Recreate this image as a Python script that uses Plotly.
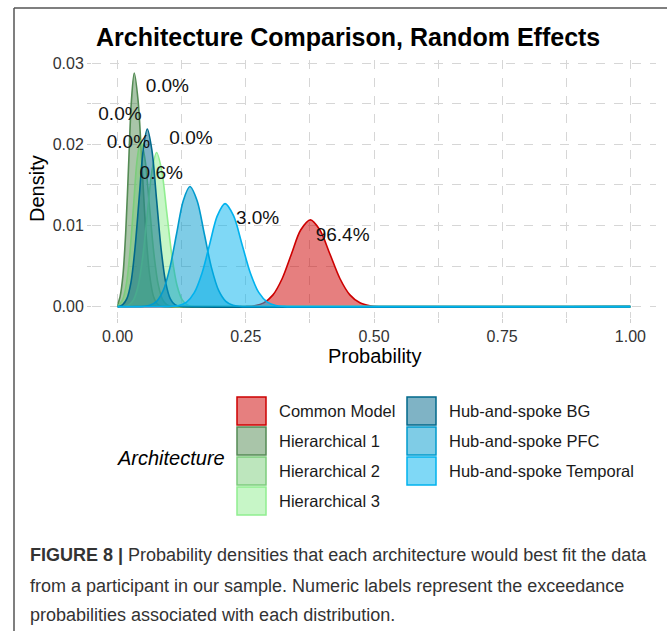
import plotly.graph_objects as go

W, H = 667, 631

# ---- data -------------------------------------------------------------
architectures = ["Common Model", "Hierarchical 1", "Hierarchical 2", "Hierarchical 3",
                 "Hub-and-spoke BG", "Hub-and-spoke PFC", "Hub-and-spoke Temporal"]

common_x = [0.0, 0.23, 0.249, 0.267, 0.285, 0.303, 0.321, 0.339, 0.357, 0.376,
            0.3945, 0.414, 0.4335, 0.453, 0.4725, 0.492, 0.5115, 0.53, 1.0]
common_y = [0, 0, 0.00002, 0.00012, 0.00047, 0.00145, 0.00347, 0.00649, 0.00944, 0.0107,
            0.00944, 0.00649, 0.00347, 0.00145, 0.00047, 0.00012, 0.00002, 0, 0]

hier1_x = [0.0, 0.002, 0.0049, 0.0104, 0.0159, 0.0214, 0.0269, 0.0324,
           0.0399, 0.0474, 0.0549, 0.0624, 0.0699, 0.0774, 0.0849, 0.095, 1.0]
hier1_y = [0, 0.0006, 0.00126, 0.0039, 0.00935, 0.01747, 0.0254, 0.0288,
           0.0254, 0.01747, 0.00935, 0.0039, 0.00126, 0.00032, 0.00006, 0, 0]

hier2_x = [0.0, 0.003, 0.010, 0.017, 0.024, 0.031, 0.038, 0.045,
           0.0535, 0.062, 0.0705, 0.079, 0.0875, 0.096, 0.1045, 0.115, 1.0]
hier2_y = [0, 0.00023, 0.0009, 0.00277, 0.00666, 0.01243, 0.0181, 0.0205,
           0.0181, 0.01243, 0.00666, 0.00277, 0.0009, 0.00023, 0.00005, 0, 0]

hier3_x = [0.0, 0.005, 0.013, 0.022, 0.031, 0.040, 0.049, 0.058, 0.067, 0.076,
           0.086, 0.096, 0.106, 0.116, 0.126, 0.136, 0.146, 0.16, 1.0]
hier3_y = [0, 0, 0.00004, 0.00021, 0.00083, 0.00257, 0.00617, 0.01152, 0.01677, 0.019,
           0.01677, 0.01152, 0.00617, 0.00257, 0.00083, 0.00021, 0.00004, 0, 0]

bg_x = [0.0, 0.004, 0.010, 0.018, 0.026, 0.034, 0.042, 0.050, 0.0578,
        0.0668, 0.0758, 0.0848, 0.0938, 0.1028, 0.1118, 0.1208, 0.13, 1.0]
bg_y = [0, 0.00005, 0.00025, 0.00098, 0.0030, 0.0073, 0.0134, 0.0194, 0.0219,
        0.0193, 0.0133, 0.0071, 0.00296, 0.00096, 0.00024, 0.00005, 0, 0]

pfc_x = [0.0, 0.036, 0.05, 0.063, 0.076, 0.089, 0.102, 0.115, 0.128, 0.141,
         0.155, 0.169, 0.183, 0.197, 0.211, 0.225, 0.239, 0.253, 1.0]
pfc_y = [0, 0, 0.00003, 0.00016, 0.00065, 0.002, 0.00481, 0.00898, 0.01306, 0.0148,
         0.01306, 0.00898, 0.00481, 0.002, 0.00065, 0.00016, 0.00003, 0, 0]

temporal_x = [0.0, 0.09, 0.1045, 0.1195, 0.1345, 0.1495, 0.1645, 0.1795, 0.1945, 0.2095,
              0.226, 0.2425, 0.259, 0.2755, 0.292, 0.3085, 0.325, 0.34, 1.0]
temporal_y = [0, 0, 0.00003, 0.00014, 0.00056, 0.00172, 0.00412, 0.0077, 0.01121, 0.0127,
              0.01121, 0.0077, 0.00412, 0.00172, 0.00056, 0.00014, 0.00003, 0, 0]

# exceedance probabilities (%) and where their labels sit
exceedance = [96.4, 0.0, 0.0, 0.0, 0.0, 0.6, 3.0]
label_x = [0.4388, 0.097, 0.0045, 0.021, 0.143, 0.085, 0.273]
label_y = [0.0087, 0.0270, 0.0236, 0.0201, 0.0206, 0.0163, 0.0108]

x_ticks = [0.0, 0.25, 0.5, 0.75, 1.0]
x_ticktext = ["0.00", "0.25", "0.50", "0.75", "1.00"]
y_ticks = [0.0, 0.01, 0.02, 0.03]
y_ticktext = ["0.00", "0.01", "0.02", "0.03"]

# ---- styling ----------------------------------------------------------
colors = ["#CD0000", "#548B54", "#7CCD7C", "#90EE90", "#00688B", "#009ACD", "#00B2EE"]
FONT = "Liberation Sans, Arial, Helvetica, sans-serif"

curves = [(common_x, common_y), (hier1_x, hier1_y), (hier2_x, hier2_y), (hier3_x, hier3_y),
          (bg_x, bg_y), (pfc_x, pfc_y), (temporal_x, temporal_y)]


def rgba(hex_color, a):
    h = hex_color.lstrip("#")
    r, g, b = int(h[0:2], 16), int(h[2:4], 16), int(h[4:6], 16)
    return f"rgba({r},{g},{b},{a})"


# plot panel in pixels
L, R, T, B = 92, 656, 60, 318


def px(x):
    return (x - L) / (R - L)


def py(y):
    return (B - y) / (B - T)


fig = go.Figure()

for name, col, (xs, ys) in zip(architectures, colors, curves):
    fig.add_trace(go.Scatter(
        x=xs, y=ys, name=name, mode="lines",
        line=dict(color=col, width=1.6, shape="spline", smoothing=0.9),
        fill="tozeroy", fillcolor=rgba(col, 0.5),
        showlegend=False, hoverinfo="skip",
    ))

fig.add_trace(go.Scatter(
    x=label_x, y=label_y, mode="text",
    text=[f"{p:.1f}%" for p in exceedance],
    textfont=dict(family=FONT, size=19, color="#111111"),
    showlegend=False, hoverinfo="skip",
))

grid = dict(showgrid=True, gridcolor="#d6d6d6", gridwidth=1, griddash="dash")

fig.update_xaxes(
    range=[-0.05, 1.05], tickvals=x_ticks, ticktext=x_ticktext,
    ticks="outside", ticklen=4, tickcolor="#cfcfcf",
    tickfont=dict(family=FONT, size=16, color="#333333"),
    zeroline=False, showline=False,
    minor=dict(tickvals=[0.125, 0.375, 0.625, 0.875], ticks="outside", ticklen=4,
               tickcolor="#cfcfcf", **grid),
    **grid,
)
fig.update_yaxes(
    range=[-0.0014, 0.0304], tickvals=y_ticks, ticktext=y_ticktext,
    ticks="outside", ticklen=4, tickcolor="#cfcfcf",
    tickfont=dict(family=FONT, size=16, color="#333333"),
    zeroline=False, showline=False,
    minor=dict(tickvals=[0.005, 0.015, 0.025], ticks="outside", ticklen=4,
               tickcolor="#cfcfcf", **grid),
    **grid,
)

annotations = [
    dict(text="<b>Architecture Comparison, Random Effects</b>", x=px(348), y=py(37),
         font=dict(family=FONT, size=25, color="#000000")),
    dict(text="Probability", x=px(374), y=py(356),
         font=dict(family=FONT, size=20, color="#000000")),
    dict(text="Density", x=px(37), y=py(189), textangle=-90,
         font=dict(family=FONT, size=20, color="#000000")),
    dict(text="<i>Architecture</i>", x=px(227), y=py(458), xanchor="right",
         font=dict(family=FONT, size=20, color="#000000")),
]

shapes = []
# legend: two columns of swatches
slots = [(237, 411), (237, 441), (237, 471), (237, 501), (407, 411), (407, 441), (407, 471)]
for name, col, (sx, cy) in zip(architectures, colors, slots):
    shapes.append(dict(type="rect", xref="paper", yref="paper",
                       x0=px(sx), x1=px(sx + 29), y0=py(cy + 14), y1=py(cy - 14),
                       fillcolor=rgba(col, 0.5), line=dict(color=col, width=1.5)))
    annotations.append(dict(text=name, x=px(sx + 40), y=py(cy), xanchor="left",
                            font=dict(family=FONT, size=16.5, color="#1a1a1a")))

# caption below the chart
caption = [
    "<b>FIGURE 8 |</b> Probability densities that each architecture would best fit the data",
    "from a participant in our sample. Numeric labels represent the exceedance",
    "probabilities associated with each distribution.",
]
for line, cy in zip(caption, [555, 586, 615]):
    annotations.append(dict(text=line, x=px(28), y=py(cy), xanchor="left",
                            font=dict(family=FONT, size=18, color="#333333")))

for a in annotations:
    a.setdefault("xref", "paper")
    a.setdefault("yref", "paper")
    a.setdefault("showarrow", False)
    a.setdefault("yanchor", "middle")
    a.setdefault("xanchor", "center")

# frame around the figure
shapes.append(dict(type="line", xref="paper", yref="paper",
                   x0=px(14), x1=px(700), y0=py(8), y1=py(8),
                   line=dict(color="#555555", width=1.5)))
shapes.append(dict(type="line", xref="paper", yref="paper",
                   x0=px(14), x1=px(14), y0=py(8), y1=py(700),
                   line=dict(color="#555555", width=1.5)))

fig.update_layout(
    width=W, height=H,
    margin=dict(l=L, r=W - R, t=T, b=H - B),
    paper_bgcolor="white", plot_bgcolor="white",
    annotations=annotations, shapes=shapes,
    showlegend=False,
)

fig.write_html("out.html")
